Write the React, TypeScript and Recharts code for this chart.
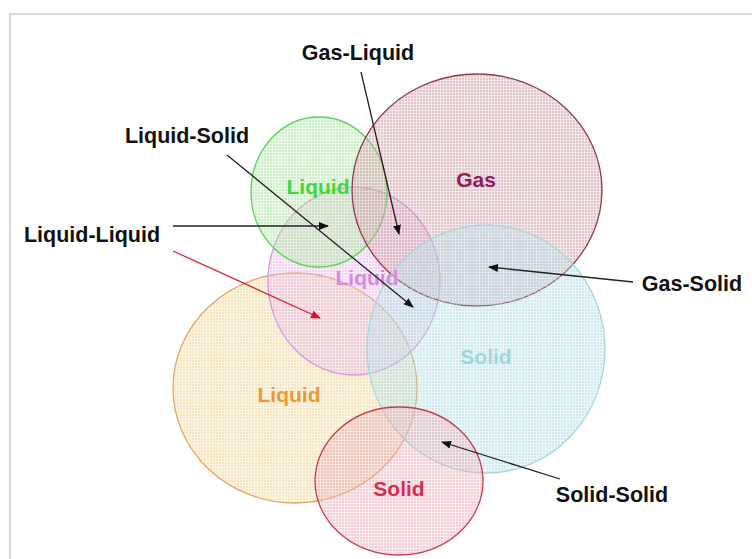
import React from "react";
import { ScatterChart, Scatter, XAxis, YAxis } from "recharts";

const W = 752;
const H = 559;

// circles (data units = image pixels)
const circleNames = ["Liquid", "Liquid", "Liquid", "Gas", "Solid", "Solid"];
const circleKeys = ["orange", "violet", "green", "gas", "blue", "red"];
const circleX = [295, 354, 319, 477, 486, 399];
const circleY = [388, 281, 192, 190, 349, 481];
const circleRx = [122, 86, 68, 125, 119, 84];
const circleRy = [115, 94, 75, 116, 124, 74];
const labelX = [289, 367, 318, 476, 486, 399];
const labelY = [394, 277, 186, 179, 356, 488];

// annotations
const noteNames = ["Gas-Liquid", "Liquid-Solid", "Liquid-Liquid", "Gas-Solid", "Solid-Solid"];
const noteX = [358, 187, 92, 692, 612];
const noteY = [53, 136, 235, 284, 495];

// arrows: start -> end
const arrowFromX = [361, 227, 173, 633, 560, 173];
const arrowFromY = [72, 155, 226, 282, 479, 251];
const arrowToX = [399, 413, 328, 489, 442, 320];
const arrowToY = [234, 307, 226, 267, 442, 318];
const arrowKind = ["black", "black", "black", "black", "black", "red"];

const STYLE: Record<string, { fill: string; stroke: string; text: string }> = {
  orange: { fill: "#f4d99a", stroke: "#e2a860", text: "#e89a3a" },
  violet: { fill: "#ebbcec", stroke: "#d49ad8", text: "#d58bdb" },
  green: { fill: "#b2e8a8", stroke: "#5bd35b", text: "#3fd83f" },
  gas: { fill: "#d3a2aa", stroke: "#8e3c4c", text: "#8f1d5e" },
  blue: { fill: "#b4e0e6", stroke: "#a6d6dc", text: "#9ed6e0" },
  red: { fill: "#eeb2bc", stroke: "#c83a50", text: "#d0304e" },
};

const circles = circleNames.map((name, i) => ({
  name,
  key: circleKeys[i],
  x: circleX[i],
  y: circleY[i],
  rx: circleRx[i],
  ry: circleRy[i],
}));
const circleLabels = circleNames.map((name, i) => ({ name, key: circleKeys[i], x: labelX[i], y: labelY[i] }));
const notes = noteNames.map((name, i) => ({ name, x: noteX[i], y: noteY[i] }));
const arrows = arrowFromX.map((x, i) => ({
  x,
  y: arrowFromY[i],
  x2: arrowToX[i],
  y2: arrowToY[i],
  kind: arrowKind[i],
}));

const FONT = '"Liberation Sans", Arial, sans-serif';

function EllipseShape(props: any) {
  const { cx, cy, payload } = props;
  const s = STYLE[payload.key];
  return (
    <ellipse
      cx={cx}
      cy={cy}
      rx={payload.rx}
      ry={payload.ry}
      fill={`url(#dots-${payload.key})`}
      stroke={s.stroke}
      strokeWidth={1.3}
    />
  );
}

function CircleLabel(props: any) {
  const { cx, cy, payload } = props;
  return (
    <text
      x={cx}
      y={cy}
      textAnchor="middle"
      dominantBaseline="central"
      fontFamily={FONT}
      fontWeight="bold"
      fontSize={21}
      fill={STYLE[payload.key].text}
    >
      {payload.name}
    </text>
  );
}

function NoteLabel(props: any) {
  const { cx, cy, payload } = props;
  return (
    <text
      x={cx}
      y={cy}
      textAnchor="middle"
      dominantBaseline="central"
      fontFamily={FONT}
      fontWeight="bold"
      fontSize={21.5}
      fill="#111"
    >
      {payload.name}
    </text>
  );
}

function ArrowShape(props: any) {
  const { cx, cy, payload } = props;
  const red = payload.kind === "red";
  return (
    <line
      x1={cx}
      y1={cy}
      x2={cx + (payload.x2 - payload.x)}
      y2={cy + (payload.y2 - payload.y)}
      stroke={red ? "#d8263a" : "#222"}
      strokeWidth={1.3}
      markerEnd={red ? "url(#head-red)" : "url(#head-black)"}
    />
  );
}

function Defs() {
  return (
    <svg width={0} height={0} style={{ position: "absolute" }}>
      <defs>
        {Object.entries(STYLE).map(([k, s]) => (
          <pattern key={k} id={`dots-${k}`} width={3} height={3} patternUnits="userSpaceOnUse">
            <rect x={0} y={0} width={3} height={3} fill={s.fill} fillOpacity={0.25} />
            <rect x={0} y={0} width={2} height={2} fill={s.fill} fillOpacity={0.5} />
          </pattern>
        ))}
        <marker id="head-black" markerWidth={10} markerHeight={8} refX={9} refY={4} orient="auto" markerUnits="userSpaceOnUse">
          <path d="M0,0 L10,4 L0,8 Z" fill="#111" />
        </marker>
        <marker id="head-red" markerWidth={10} markerHeight={8} refX={9} refY={4} orient="auto" markerUnits="userSpaceOnUse">
          <path d="M0,0 L10,4 L0,8 Z" fill="#e01020" />
        </marker>
      </defs>
    </svg>
  );
}

export default function App() {
  return (
    <div style={{ position: "absolute", left: 0, top: 0, width: W, height: H, background: "#fff", overflow: "hidden" }}>
      <Defs />
      {/* light frame like the source image */}
      <div
        style={{
          position: "absolute",
          left: 9,
          top: 13,
          width: W,
          height: H,
          borderLeft: "2px solid #d9d9d9",
          borderTop: "2px solid #d9d9d9",
        }}
      />
      <div style={{ position: "absolute", left: 0, top: 0 }}>
        <ScatterChart width={W} height={H} margin={{ top: 0, right: 0, bottom: 0, left: 0 }}>
          <XAxis type="number" dataKey="x" domain={[0, W]} hide />
          <YAxis type="number" dataKey="y" domain={[0, H]} reversed hide />
          <Scatter data={circles} shape={EllipseShape} isAnimationActive={false} />
          <Scatter data={circleLabels} shape={CircleLabel} isAnimationActive={false} />
          <Scatter data={arrows} shape={ArrowShape} isAnimationActive={false} />
          <Scatter data={notes} shape={NoteLabel} isAnimationActive={false} />
        </ScatterChart>
      </div>
    </div>
  );
}
